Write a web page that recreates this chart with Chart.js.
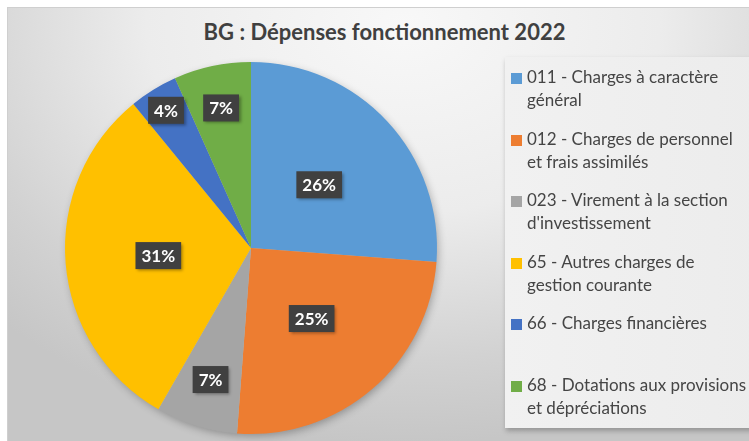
<!DOCTYPE html>
<html lang="fr">
<head>
    <meta charset="UTF-8">
    <title>BG : Dépenses fonctionnement 2022</title>
    <script src="https://cdn.jsdelivr.net/npm/chart.js"></script>
    <style>
        html, body {
            margin: 0;
            padding: 0;
            width: 749px;
            height: 441px;
            overflow: hidden;
            background: #ffffff;
            font-family: Lato, "Open Sans", sans-serif;
        }
        #frame {
            position: absolute;
            left: 7px;
            top: 7px;
            width: 760px;
            height: 440px;
            border-top: 1px solid #cfcfcf;
            border-left: 1px solid #cfcfcf;
            background: radial-gradient(ellipse 75% 95% at 52% 4%, #f8f8f8 0%, #ececec 45%, #d2d2d2 80%, #c6c6c6 100%);
        }
        #title {
            position: absolute;
            left: 0;
            top: 18px;
            width: 769px;
            text-align: center;
            font-weight: bold;
            font-size: 22px;
            color: #404040;
        }
        #chartBox {
            position: absolute;
            left: 0;
            top: 0;
            width: 749px;
            height: 441px;
        }
        #legend {
            position: absolute;
            left: 505px;
            top: 57px;
            width: 260px;
            height: 371px;
            background: linear-gradient(90deg, #f1f1f1, #ececec);
            box-shadow: 1px 3px 5px rgba(0, 0, 0, 0.25);
        }
        .legend-item {
            position: relative;
            height: 61.5px;
            padding-left: 22px;
            box-sizing: border-box;
        }
        .legend-item span.box {
            position: absolute;
            left: 6px;
            top: 16px;
            width: 11px;
            height: 11px;
        }
        .legend-item div.txt {
            padding-top: 8px;
            white-space: pre-line;
            font-size: 17px;
            line-height: 23px;
            color: #454545;
        }
    </style>
</head>
<body>
    <div id="frame"></div>
    <div id="title">BG : Dépenses fonctionnement 2022</div>
    <div id="chartBox"><canvas id="myChart" width="749" height="441"></canvas></div>
    <div id="legend"></div>
    <script>
        const categories = [
            '011 - Charges à caractère\ngénéral',
            '012 - Charges de personnel\net frais assimilés',
            "023 - Virement à la section\nd'investissement",
            '65 - Autres charges de\ngestion courante',
            '66 - Charges financières',
            '68 - Dotations aux provisions\net dépréciations'
        ];
        const shares = [26.2, 25.0, 7.1, 30.8, 4.2, 6.7];
        const colors = ['#5B9BD5', '#ED7D31', '#A5A5A5', '#FFC000', '#4472C4', '#70AD47'];
        // how far out each label box sits (fraction of the radius)
        const labelRadius = [0.5, 0.5, 0.74, 0.5, 0.87, 0.77];

        function buildLegend() {
            const legend = document.getElementById('legend');
            categories.forEach((name, i) => {
                const item = document.createElement('div');
                item.className = 'legend-item';
                const box = document.createElement('span');
                box.className = 'box';
                box.style.background = colors[i];
                const txt = document.createElement('div');
                txt.className = 'txt';
                txt.textContent = name;
                item.appendChild(box);
                item.appendChild(txt);
                legend.appendChild(item);
            });
        }
        buildLegend();

        const pieShadow = {
            id: 'pieShadow',
            beforeDatasetsDraw(chart) {
                const arc = chart.getDatasetMeta(0).data[0];
                if (!arc) return;
                const ctx = chart.ctx;
                ctx.save();
                ctx.shadowColor = 'rgba(0, 0, 0, 0.3)';
                ctx.shadowBlur = 8;
                ctx.shadowOffsetX = 2;
                ctx.shadowOffsetY = 3;
                ctx.fillStyle = '#bbbbbb';
                ctx.beginPath();
                ctx.arc(arc.x, arc.y, arc.outerRadius - 1, 0, Math.PI * 2);
                ctx.fill();
                ctx.restore();
            }
        };

        const sliceLabels = {
            id: 'sliceLabels',
            afterDatasetsDraw(chart) {
                const ctx = chart.ctx;
                const meta = chart.getDatasetMeta(0);
                const values = chart.data.datasets[0].data;
                const total = values.reduce((a, b) => a + b, 0);
                ctx.save();
                ctx.font = 'bold 17px Lato, "Open Sans", sans-serif';
                ctx.textAlign = 'center';
                ctx.textBaseline = 'middle';
                meta.data.forEach((arc, i) => {
                    const p = arc.getProps(['x', 'y', 'startAngle', 'endAngle', 'outerRadius'], true);
                    const mid = (p.startAngle + p.endAngle) / 2;
                    const r = p.outerRadius * labelRadius[i];
                    const cx = p.x + Math.cos(mid) * r;
                    const cy = p.y + Math.sin(mid) * r;
                    const text = Math.round(values[i] / total * 100) + '%';
                    const w = ctx.measureText(text).width + 12;
                    const h = 27;
                    ctx.shadowColor = 'rgba(0, 0, 0, 0.35)';
                    ctx.shadowBlur = 3;
                    ctx.shadowOffsetX = 2;
                    ctx.shadowOffsetY = 2;
                    ctx.fillStyle = '#404040';
                    ctx.fillRect(cx - w / 2, cy - h / 2, w, h);
                    ctx.shadowColor = 'transparent';
                    ctx.fillStyle = '#ffffff';
                    ctx.fillText(text, cx, cy + 1);
                });
                ctx.restore();
            }
        };

        const ctx = document.getElementById('myChart').getContext('2d');
        const myChart = new Chart(ctx, {
            type: 'pie',
            data: {
                labels: categories,
                datasets: [{
                    data: shares,
                    backgroundColor: colors,
                    borderWidth: 0
                }]
            },
            options: {
                responsive: false,
                animation: false,
                layout: {
                    padding: { top: 62, bottom: 7, left: 65, right: 312 }
                },
                plugins: {
                    legend: { display: false },
                    title: { display: false },
                    tooltip: { enabled: false }
                }
            },
            plugins: [pieShadow, sliceLabels]
        });
    </script>
</body>
</html>
